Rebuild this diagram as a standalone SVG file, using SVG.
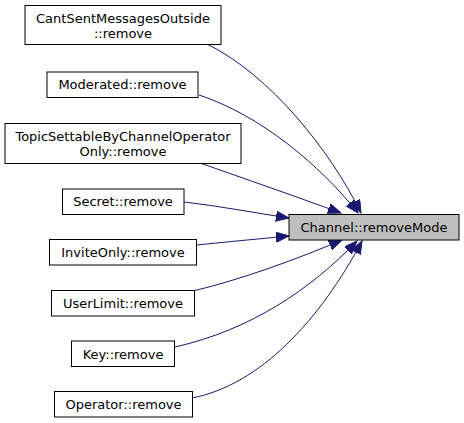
<svg xmlns="http://www.w3.org/2000/svg" width="464" height="423" viewBox="0 0 464 423">
<style>
.n rect{fill:#fff;stroke:#000;stroke-width:1}
.n.t rect{fill:#bfbfbf}
text{font-family:"DejaVu Sans",sans-serif;font-size:13px;text-anchor:middle;fill:#000}
.e path{fill:none;stroke:#191970;stroke-width:1}
</style>
<defs>
<marker id="a" markerUnits="userSpaceOnUse" markerWidth="14" markerHeight="11" refX="13" refY="5" orient="auto" viewBox="0 0 14 11">
<path d="M0,0 L13,5 L0,10 z" fill="#191970" stroke="#191970" stroke-width="1"/>
</marker>
</defs>
<g id="edges" class="e">
<path d="M207,44 C270,75 330,150 361,213" marker-end="url(#a)"/>
<path d="M199,95 C260,115 320,165 358,213" marker-end="url(#a)"/>
<path d="M200,163 C240,177 300,198 341,213" marker-end="url(#a)"/>
<path d="M184,202 C220,206 255,213 289,218" marker-end="url(#a)"/>
<path d="M197,245 C225,242 258,239 289,236" marker-end="url(#a)"/>
<path d="M193,291 C240,280 300,258 342,240" marker-end="url(#a)"/>
<path d="M175,347 C250,330 310,290 357,241" marker-end="url(#a)"/>
<path d="M192,398 C260,385 320,320 362,241" marker-end="url(#a)"/>
</g>
<g id="target" class="n t"><rect x="289" y="214.5" width="170" height="25.5"/><text x="374" y="232">Channel::removeMode</text></g>
<g id="cantsent" class="n"><rect x="25" y="5.5" width="196" height="39"/><text x="123" y="23">CantSentMessagesOutside</text><text x="123" y="38">::remove</text></g>
<g id="moderated" class="n"><rect x="47" y="72" width="151" height="25.5"/><text x="122.5" y="89">Moderated::remove</text></g>
<g id="topic" class="n"><rect x="5" y="123.5" width="236" height="40"/><text x="123" y="141">TopicSettableByChannelOperator</text><text x="123" y="156">Only::remove</text></g>
<g id="secret" class="n"><rect x="62.5" y="189" width="121.5" height="25.5"/><text x="123" y="206">Secret::remove</text></g>
<g id="inviteonly" class="n"><rect x="49.5" y="239.5" width="147" height="25.5"/><text x="123" y="256.5">InviteOnly::remove</text></g>
<g id="userlimit" class="n"><rect x="51.5" y="290.5" width="143" height="25.5"/><text x="123" y="308">UserLimit::remove</text></g>
<g id="key" class="n"><rect x="71.5" y="341" width="103" height="25.5"/><text x="123" y="358.5">Key::remove</text></g>
<g id="operator" class="n"><rect x="54.5" y="391.5" width="138" height="25.5"/><text x="123.5" y="409">Operator::remove</text></g>
</svg>
